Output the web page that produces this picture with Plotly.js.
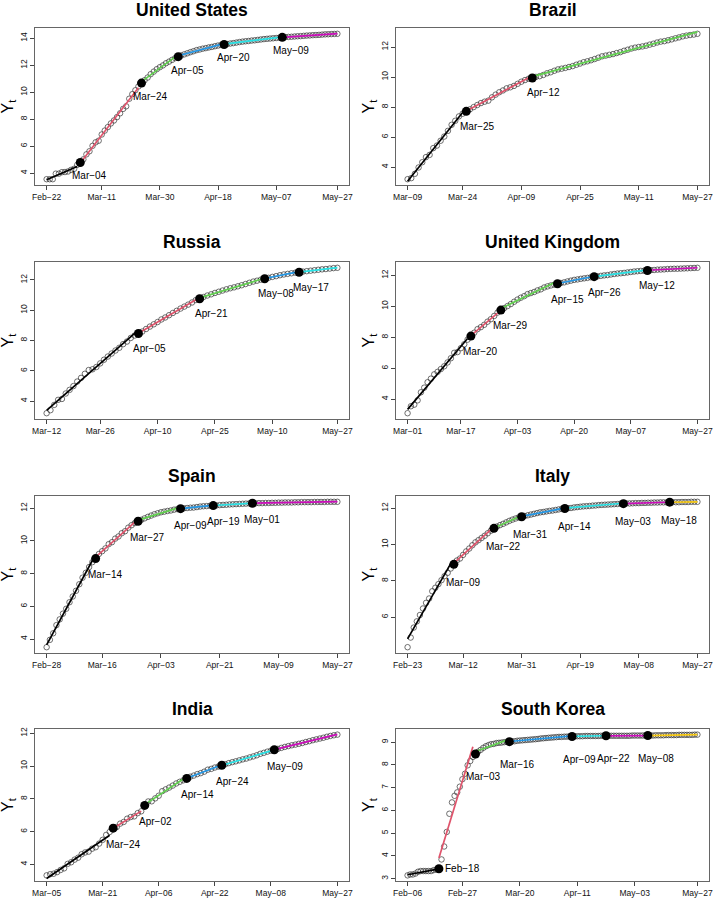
<!DOCTYPE html>
<html><head><meta charset="utf-8">
<script src="https://cdn.plot.ly/plotly-3.0.1.min.js"></script>
<style>html,body{margin:0;padding:0;background:#fff}#chart{width:714px;height:902px}</style>
</head><body><div id="chart"></div>
<script>
// ---------------- data: Y_t (log cumulative cases), one value per day ----------------
const usStart = '2020-02-22';
const usY = [3.56,3.56,3.56,3.97,3.97,4.08,4.09,4.13,4.25,
  4.33,4.62,4.80,5.03,5.40,5.63,6.03,6.29,6.41,6.87,7.16,7.42,7.69,7.91,8.16,8.44,8.77,8.96,9.52,9.86,
  10.15,10.43,10.68,10.89,11.09,11.34,11.53,11.71,11.86,11.99,12.15,
  12.27,12.40,12.53,12.64,12.73,12.81,12.89,12.97,13.04,13.12,13.17,13.23,13.27,13.32,13.36,13.41,13.46,13.50,13.54,13.57,
  13.61,13.64,13.68,13.72,13.75,13.78,13.80,13.83,13.85,13.88,
  13.91,13.94,13.96,13.98,14.00,14.02,14.04,14.07,14.09,14.10,14.11,14.13,14.15,14.16,14.18,14.20,14.21,14.23,14.24,14.25,
  14.27,14.29,14.30,14.31,14.32,14.33];
const usBreaks = ['2020-03-04','2020-03-24','2020-04-05','2020-04-20','2020-05-09'];
const usBreakText = ['Mar−04','Mar−24','Apr−05','Apr−20','May−09'];
const usTicks = ['2020-02-22','2020-03-11','2020-03-30','2020-04-18','2020-05-07','2020-05-27'];
const usTickText = ['Feb−22','Mar−11','Mar−30','Apr−18','May−07','May−27'];

const brStart = '2020-03-09';
const brY = [3.20,3.27,3.56,3.98,4.33,4.67,4.82,5.27,5.44,5.76,6.04,6.42,6.82,7.09,7.38,7.56,
  7.72,7.85,8.00,8.14,8.27,8.36,8.43,
  8.65,8.83,8.99,9.11,9.25,9.32,9.41,9.55,9.69,9.80,9.89,9.94,10.01,10.06,10.14,10.25,10.32,10.42,10.51,10.56,
  10.61,10.67,10.73,10.82,10.90,10.99,11.05,11.12,11.20,11.29,
  11.38,11.43,11.48,11.53,11.60,11.66,11.75,11.82,11.90,11.96,12.00,12.04,12.09,12.16,12.22,12.30,12.36,12.39,12.45,12.51,
  12.58,12.64,12.71,12.76,12.80,12.83,12.88];
const brBreaks = ['2020-03-25','2020-04-12'];
const brBreakText = ['Mar−25','Apr−12'];
const brTicks = ['2020-03-09','2020-03-24','2020-04-09','2020-04-25','2020-05-11','2020-05-27'];
const brTickText = ['Mar−09','Mar−24','Apr−09','Apr−25','May−11','May−27'];

const ruStart = '2020-03-12';
const ruY = [3.20,3.40,3.75,4.08,4.14,4.50,4.74,4.99,5.29,5.53,5.80,6.05,6.10,6.25,6.49,6.73,6.94,7.14,7.34,7.52,
  7.76,7.93,8.17,8.33,8.46,8.59,8.76,8.92,9.07,9.22,9.39,9.52,9.67,9.82,9.96,10.11,10.24,10.37,10.51,10.67,
  10.76,10.87,10.97,11.05,11.14,11.22,11.30,11.38,11.45,11.51,
  11.58,11.65,11.73,11.81,11.89,11.95,12.02,12.08,12.14,12.20,12.25,12.31,12.36,12.40,12.44,12.48,12.51,12.55,12.58,12.61,
  12.64,12.67,12.70,12.72,12.75,12.78,12.80];
const ruBreaks = ['2020-04-05','2020-04-21','2020-05-08','2020-05-17'];
const ruBreakText = ['Apr−05','Apr−21','May−08','May−17'];
const ruTicks = ['2020-03-12','2020-03-26','2020-04-10','2020-04-25','2020-05-10','2020-05-27'];
const ruTickText = ['Mar−12','Mar−26','Apr−10','Apr−25','May−10','May−27'];

const ukStart = '2020-03-01';
const ukY = [3.10,3.55,3.65,3.93,4.45,4.75,5.10,5.33,5.61,5.77,5.95,6.13,6.38,6.65,7.00,7.05,7.30,7.55,7.85,8.08,
  8.30,8.53,8.66,8.81,9.01,9.17,9.38,9.60,9.76,9.89,10.02,
  10.15,10.30,10.44,10.56,10.66,10.79,10.86,10.93,11.03,11.10,11.22,11.29,11.35,11.40,11.46,11.51,11.55,11.61,11.66,11.71,
  11.74,11.78,11.81,11.84,11.88,11.92,11.94,11.97,12.00,12.02,
  12.06,12.09,12.12,12.14,12.16,12.19,12.22,12.25,12.27,12.29,12.30,12.32,12.34,12.35,12.37,12.38,12.39,12.41,12.42,12.43,
  12.43,12.44,12.45,12.46,12.47,12.48,12.49];
const ukBreaks = ['2020-03-20','2020-03-29','2020-04-15','2020-04-26','2020-05-12'];
const ukBreakText = ['Mar−20','Mar−29','Apr−15','Apr−26','May−12'];
const ukTicks = ['2020-03-01','2020-03-17','2020-04-03','2020-04-20','2020-05-07','2020-05-27'];
const ukTickText = ['Mar−01','Mar−17','Apr−03','Apr−20','May−07','May−27'];

const esStart = '2020-02-28';
const esY = [3.50,3.95,
  4.35,4.85,5.20,5.55,5.85,6.25,6.60,6.95,7.35,7.75,8.05,8.40,8.70,8.92,9.20,9.37,9.54,9.80,9.92,10.14,
  10.27,10.47,10.59,10.81,10.96,11.09,11.20,11.29,11.38,11.47,11.55,
  11.63,11.69,11.75,11.79,11.83,11.86,11.91,11.94,11.97,11.99,12.01,12.03,12.04,12.07,12.10,12.12,12.13,12.15,12.16,12.17,
  12.19,12.20,12.21,12.23,12.24,12.25,12.26,12.27,12.28,12.29,
  12.30,12.30,12.31,12.31,12.32,12.32,12.33,12.33,12.34,12.34,12.35,12.35,12.35,12.36,12.36,12.37,12.37,12.37,12.37,12.38,
  12.38,12.38,12.38,12.39,12.39,12.39,12.39];
const esBreaks = ['2020-03-14','2020-03-27','2020-04-09','2020-04-19','2020-05-01'];
const esBreakText = ['Mar−14','Mar−27','Apr−09','Apr−19','May−01'];
const esTicks = ['2020-02-28','2020-03-16','2020-04-03','2020-04-21','2020-05-09','2020-05-27'];
const esTickText = ['Feb−28','Mar−16','Apr−03','Apr−21','May−09','May−27'];

const itStart = '2020-02-23';
const itY = [4.35,4.88,5.43,5.77,6.12,6.48,6.79,
  7.03,7.43,7.62,7.82,8.04,8.26,8.44,8.68,8.91,9.12,9.23,9.43,9.62,9.78,9.96,10.12,10.24,10.36,10.48,10.62,
  10.76,10.89,10.99,11.07,11.14,11.22,11.30,11.37,11.43,11.49,11.53,
  11.57,11.61,11.65,11.69,11.73,11.77,11.79,11.82,11.85,11.87,11.90,11.93,11.96,11.98,12.00,12.01,12.04,12.06,12.08,12.10,
  12.11,12.12,12.14,12.15,12.17,12.18,12.19,12.20,12.21,12.22,
  12.23,12.24,12.25,12.26,12.26,12.27,12.28,12.28,12.29,12.29,12.30,12.30,12.31,12.31,12.32,12.32,12.32,12.33,12.33,12.33,
  12.33,12.34,12.34,12.34,12.35,12.35,12.35];
const itBreaks = ['2020-03-09','2020-03-22','2020-03-31','2020-04-14','2020-05-03','2020-05-18'];
const itBreakText = ['Mar−09','Mar−22','Mar−31','Apr−14','May−03','May−18'];
const itTicks = ['2020-02-23','2020-03-12','2020-03-31','2020-04-19','2020-05-08','2020-05-27'];
const itTickText = ['Feb−23','Mar−12','Mar−31','Apr−19','May−08','May−27'];

const inStart = '2020-03-05';
const inY = [3.33,3.40,3.43,3.53,3.66,3.76,4.03,4.13,4.29,4.41,4.62,4.73,4.78,4.96,5.05,5.27,5.50,5.80,5.98,6.21,
  6.28,6.49,6.59,6.79,6.89,6.93,7.13,
  7.24,7.60,7.84,7.85,8.03,8.19,8.47,8.58,8.69,8.81,8.94,9.04,9.13,9.25,9.35,9.42,9.51,9.57,9.66,9.78,
  9.83,9.91,9.97,10.05,10.11,10.18,10.24,10.29,10.35,10.41,
  10.46,10.53,10.59,10.66,10.75,10.81,10.88,10.94,11.00,11.05,11.11,11.17,11.22,11.27,11.31,11.36,11.41,11.47,11.52,11.58,
  11.63,11.68,11.73,11.79,11.84,11.88,11.92];
const inBreaks = ['2020-03-24','2020-04-02','2020-04-14','2020-04-24','2020-05-09'];
const inBreakText = ['Mar−24','Apr−02','Apr−14','Apr−24','May−09'];
const inTicks = ['2020-03-05','2020-03-21','2020-04-06','2020-04-22','2020-05-08','2020-05-27'];
const inTickText = ['Mar−05','Mar−21','Apr−06','Apr−22','May−08','May−27'];

const krStart = '2020-02-06';
const krY = [3.14,3.18,3.18,3.22,3.30,3.33,3.33,3.33,3.33,3.33,3.37,3.40,3.43,3.84,4.41,5.05,5.85,6.35,6.64,6.79,
  7.04,7.37,7.61,7.98,
  8.17,8.35,8.48,8.58,8.66,8.75,8.82,8.87,8.91,8.92,8.96,8.97,8.98,9.00,9.01,9.02,9.03,9.04,9.06,9.07,
  9.08,9.09,9.10,9.11,9.12,9.13,9.14,9.16,9.17,9.18,9.19,
  9.20,9.21,9.22,9.23,9.23,9.24,9.24,9.25,9.25,9.25,9.26,9.26,9.26,9.27,9.27,9.27,9.27,9.27,9.27,9.28,
  9.28,9.28,9.28,9.28,9.28,9.28,9.28,9.28,9.28,9.28,
  9.28,9.29,9.29,9.29,9.29,9.29,9.29,9.29,9.29,9.29,9.30,9.30,9.30,9.30,9.31,9.31,9.31,9.31,9.31,9.32,
  9.32,9.32,9.32,9.32,9.32,9.33,9.33];
const krBreaks = ['2020-02-18','2020-03-03','2020-03-16','2020-04-09','2020-04-22','2020-05-08'];
const krBreakText = ['Feb−18','Mar−03','Mar−16','Apr−09','Apr−22','May−08'];
const krTicks = ['2020-02-06','2020-02-27','2020-03-20','2020-04-11','2020-05-03','2020-05-27'];
const krTickText = ['Feb−06','Feb−27','Mar−20','Apr−11','May−03','May−27'];

// segment colours (R palette order)
const segColors = ['#000000','#DF536B','#61D04F','#2297E6','#28E2E5','#CD0BBC','#F5C710'];

// ---------------- build ----------------
const panels = [
  {title:'United States', start:usStart, y:usY, breaks:usBreaks, text:usBreakText, ticks:usTicks, tickText:usTickText, dtick:2},
  {title:'Brazil', start:brStart, y:brY, breaks:brBreaks, text:brBreakText, ticks:brTicks, tickText:brTickText, dtick:2},
  {title:'Russia', start:ruStart, y:ruY, breaks:ruBreaks, text:ruBreakText, ticks:ruTicks, tickText:ruTickText, dtick:2},
  {title:'United Kingdom', start:ukStart, y:ukY, breaks:ukBreaks, text:ukBreakText, ticks:ukTicks, tickText:ukTickText, dtick:2},
  {title:'Spain', start:esStart, y:esY, breaks:esBreaks, text:esBreakText, ticks:esTicks, tickText:esTickText, dtick:2},
  {title:'Italy', start:itStart, y:itY, breaks:itBreaks, text:itBreakText, ticks:itTicks, tickText:itTickText, dtick:2},
  {title:'India', start:inStart, y:inY, breaks:inBreaks, text:inBreakText, ticks:inTicks, tickText:inTickText, dtick:2},
  {title:'South Korea', start:krStart, y:krY, breaks:krBreaks, text:krBreakText, ticks:krTicks, tickText:krTickText, dtick:1}
];

const W = 714, H = 902;
const colBox = [[35,349],[396,709]];
const rowBox = [[28,185],[262,419],[496,653],[729,881]];
const DAY = 864e5;
const FONT = 'Liberation Sans, Arial, Helvetica, sans-serif';
const fmt = ms => new Date(ms).toISOString().replace('T',' ').replace('Z','');
const day = ms => new Date(ms).toISOString().slice(0,10);

const pointTraces = [], lineTraces = [], dotTraces = [];
const annotations = [];
const layout = {
  width: W, height: H, margin:{l:0,r:0,t:0,b:0},
  paper_bgcolor:'#fff', plot_bgcolor:'#fff', showlegend:false,
  font:{family:FONT, color:'#000'}
};

panels.forEach((p,k) => {
  const sfx = k === 0 ? '' : String(k+1);
  const xa = 'x'+sfx, ya = 'y'+sfx;
  const [L,R] = colBox[k%2];
  const [T,B] = rowBox[Math.floor(k/2)];
  const t0 = Date.parse(p.start);
  const n = p.y.length;
  const xs = p.y.map((_,i) => t0 + i*DAY);
  const bIdx = p.breaks.map(d => Math.round((Date.parse(d)-t0)/DAY));

  // axis ranges: data range padded by 4% (as R does)
  const x0 = xs[0], x1 = xs[n-1], dx = (x1-x0)*0.04;
  const ymin = Math.min(...p.y), ymax = Math.max(...p.y), dy = (ymax-ymin)*0.04;
  const yr = [ymin-dy, ymax+dy];

  pointTraces.push({type:'scatter', mode:'markers', x:xs.map(day), y:p.y, xaxis:xa, yaxis:ya,
    marker:{symbol:'circle-open', size:5.5, color:'#333', line:{width:0.7}}, hoverinfo:'skip'});

  // least-squares line for each segment
  const segS = [0, ...bIdx], segE = [...bIdx.map(i => i-1), n-1];
  segS.forEach((s,j) => {
    const e = segE[j];
    let sx=0, sy=0, m=0;
    for (let i=s;i<=e;i++){ sx+=i; sy+=p.y[i]; m++; }
    const mx=sx/m, my=sy/m;
    let sxy=0, sxx=0;
    for (let i=s;i<=e;i++){ sxy+=(i-mx)*(p.y[i]-my); sxx+=(i-mx)*(i-mx); }
    const b = sxx>0 ? sxy/sxx : 0;
    const f = i => my + b*(i-mx);
    lineTraces.push({type:'scatter', mode:'lines', x:[day(xs[s]), day(xs[e])], y:[f(s), f(e)],
      xaxis:xa, yaxis:ya, line:{color:segColors[j], width:1.7}, hoverinfo:'skip'});
  });

  dotTraces.push({type:'scatter', mode:'markers', x:bIdx.map(i => day(xs[i])), y:bIdx.map(i => p.y[i]),
    xaxis:xa, yaxis:ya, marker:{symbol:'circle', size:9, color:'#000'}, hoverinfo:'skip'});

  // breakpoint labels: 3 days right, one unit below
  bIdx.forEach((i,j) => {
    const below = p.y[i]-1;
    if (below > yr[0]) {
      annotations.push({xref:xa, yref:ya, x:day(xs[i]+3*DAY), y:below, text:p.text[j], showarrow:false,
        xanchor:'center', yanchor:'middle', font:{size:10, family:FONT, color:'#000'}});
    } else {
      annotations.push({xref:xa, yref:ya, x:day(xs[i]), y:p.y[i], text:p.text[j], showarrow:false,
        xanchor:'left', yanchor:'middle', xshift:4, font:{size:10, family:FONT, color:'#000'}});
    }
  });

  layout['xaxis'+sfx] = {
    domain:[L/W, R/W], anchor:ya, type:'date', range:[fmt(x0-dx), fmt(x1+dx)],
    tickmode:'array', tickvals:p.ticks, ticktext:p.tickText,
    ticks:'outside', ticklen:4, tickwidth:1, tickcolor:'#444',
    showline:true, mirror:true, linecolor:'#666', linewidth:1,
    showgrid:false, zeroline:false, fixedrange:true,
    tickfont:{size:8.5, family:FONT, color:'#111'}
  };
  layout['yaxis'+sfx] = {
    domain:[1-B/H, 1-T/H], anchor:xa, range:yr, tick0:0, dtick:p.dtick, tickangle:-90,
    ticks:'outside', ticklen:4, tickwidth:1, tickcolor:'#444',
    showline:true, mirror:true, linecolor:'#666', linewidth:1,
    showgrid:false, zeroline:false, fixedrange:true,
    tickfont:{size:8.5, family:FONT, color:'#111'}
  };

  // panel title (kept fully inside the page)
  const titleY = Math.max(T-20, 10);
  annotations.push({xref:'paper', yref:'paper', x:((L+R)/2)/W, y:1-titleY/H, text:p.title,
    showarrow:false, xanchor:'center', yanchor:'middle', font:{size:17.5, family:FONT, color:'#000', weight:'bold'}});
  // y-axis title
  annotations.push({xref:'paper', yref:'paper', x:(L-27)/W, y:1-((T+B)/2)/H, text:'Y<sub>t</sub>',
    showarrow:false, xanchor:'center', yanchor:'middle', textangle:-90, font:{size:16, family:FONT, color:'#000'}});
});

layout.annotations = annotations;
Plotly.newPlot('chart', [...pointTraces, ...lineTraces, ...dotTraces], layout, {staticPlot:true, displayModeBar:false});
</script>
</body></html>
